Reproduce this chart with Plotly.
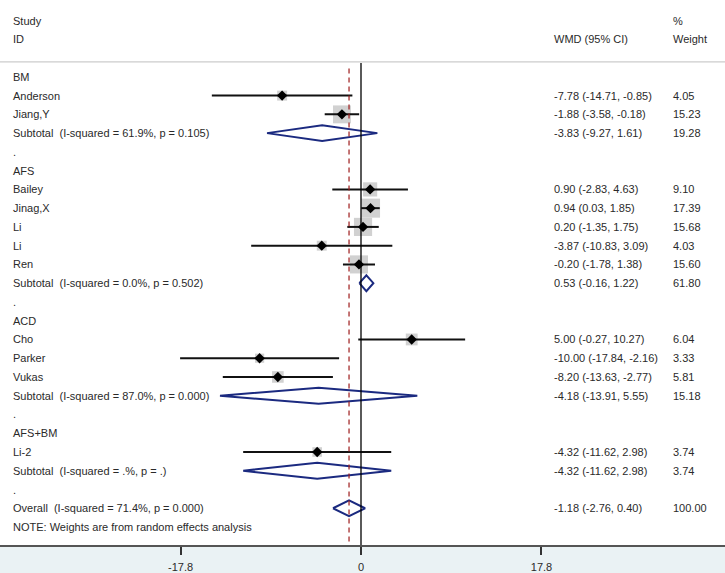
import plotly.graph_objects as go
import math

# ---------------- data ----------------
groups = ["BM", "AFS", "ACD", "AFS+BM"]
study_group = ["BM", "BM", "AFS", "AFS", "AFS", "AFS", "AFS", "ACD", "ACD", "ACD", "AFS+BM"]
study_name = ["Anderson", "Jiang,Y", "Bailey", "Jinag,X", "Li", "Li", "Ren", "Cho", "Parker", "Vukas", "Li-2"]
study_wmd = [-7.78, -1.88, 0.90, 0.94, 0.20, -3.87, -0.20, 5.00, -10.00, -8.20, -4.32]
study_lo = [-14.71, -3.58, -2.83, 0.03, -1.35, -10.83, -1.78, -0.27, -17.84, -13.63, -11.62]
study_hi = [-0.85, -0.18, 4.63, 1.85, 1.75, 3.09, 1.38, 10.27, -2.16, -2.77, 2.98]
study_weight = [4.05, 15.23, 9.10, 17.39, 15.68, 4.03, 15.60, 6.04, 3.33, 5.81, 3.74]

sub_isq = ["61.9%", "0.0%", "87.0%", ".%"]
sub_p = ["0.105", "0.502", "0.000", "."]
sub_wmd = [-3.83, 0.53, -4.18, -4.32]
sub_lo = [-9.27, -0.16, -13.91, -11.62]
sub_hi = [1.61, 1.22, 5.55, 2.98]
sub_weight = [19.28, 61.80, 15.18, 3.74]

overall_isq = "71.4%"
overall_p = "0.000"
overall_wmd = -1.18
overall_lo = -2.76
overall_hi = 0.40
overall_weight = 100.00

x_ticks = [-17.8, 0, 17.8]
x_ticklabels = ["-17.8", "0", "17.8"]
note_text = "NOTE: Weights are from random effects analysis"

# ---------------- layout constants ----------------
W, H = 725, 573
BOTTOM = 25
PX_PER_UNIT = 10.14
X0_PX = 361
ROW0_PX = 20.7
ROW_H = 18.86
plot_h = H - BOTTOM
x_range = [(0 - X0_PX) / PX_PER_UNIT, (W - X0_PX) / PX_PER_UNIT]
y_top = (0 - ROW0_PX) / ROW_H
y_bot = (plot_h - ROW0_PX) / ROW_H

TXT = dict(family="Arial, Liberation Sans, sans-serif", size=11, color="#2A2A2A")
NAVY = "#1B2A80"
COL_LABEL = 11 / W
COL_CI = 552 / W
COL_WT = 671 / W

annotations = []


def add_text(col, k, text):
    annotations.append(dict(x=col, xref="paper", y=k, yref="y", text=text,
                            xanchor="left", yanchor="middle", showarrow=False,
                            font=TXT))


def ci_text(e, lo, hi):
    return f"{e:.2f} ({lo:.2f}, {hi:.2f})"


fig = go.Figure()

add_text(COL_LABEL, 0, "Study")
add_text(COL_WT, 0, "%")
add_text(COL_LABEL, 1, "ID")
add_text(COL_CI, 1, "WMD (95% CI)")
add_text(COL_WT, 1, "Weight")
sep_k = (62.3 - ROW0_PX) / ROW_H

k = 3
dh = 8 / ROW_H  # diamond half height in rows
for gi, g in enumerate(groups):
    add_text(COL_LABEL, k, g)
    k += 1
    idx = [i for i, sg in enumerate(study_group) if sg == g]
    ks = []
    for i in idx:
        add_text(COL_LABEL, k, study_name[i])
        add_text(COL_CI, k, ci_text(study_wmd[i], study_lo[i], study_hi[i]))
        add_text(COL_WT, k, f"{study_weight[i]:.2f}")
        ks.append(k)
        k += 1
    # boxes
    fig.add_trace(go.Scatter(
        x=[study_wmd[i] for i in idx], y=ks, mode="markers",
        marker=dict(symbol="square", color="#BDBDBD",
                    size=[4.2 * math.sqrt(study_weight[i]) + 1.5 for i in idx],
                    line=dict(width=0)),
        hoverinfo="skip", showlegend=False))
    # CI lines
    xs, ys = [], []
    for i, kk in zip(idx, ks):
        xs += [study_lo[i], study_hi[i], None]
        ys += [kk, kk, None]
    fig.add_trace(go.Scatter(x=xs, y=ys, mode="lines",
                             line=dict(color="#111111", width=2),
                             hoverinfo="skip", showlegend=False))
    fig.add_trace(go.Scatter(
        x=[study_wmd[i] for i in idx], y=ks, mode="markers",
        marker=dict(symbol="diamond", color="#000000", size=8),
        hoverinfo="skip", showlegend=False))
    # subtotal
    label = f"Subtotal\u00a0 (I-squared = {sub_isq[gi]}, p = {sub_p[gi]})"
    add_text(COL_LABEL, k, label)
    add_text(COL_CI, k, ci_text(sub_wmd[gi], sub_lo[gi], sub_hi[gi]))
    add_text(COL_WT, k, f"{sub_weight[gi]:.2f}")
    fig.add_trace(go.Scatter(
        x=[sub_lo[gi], sub_wmd[gi], sub_hi[gi], sub_wmd[gi], sub_lo[gi]],
        y=[k, k - dh, k, k + dh, k], mode="lines",
        line=dict(color=NAVY, width=2), hoverinfo="skip", showlegend=False))
    k += 1
    add_text(COL_LABEL, k, ".")
    k += 1

# overall
add_text(COL_LABEL, k, f"Overall\u00a0 (I-squared = {overall_isq}, p = {overall_p})")
add_text(COL_CI, k, ci_text(overall_wmd, overall_lo, overall_hi))
add_text(COL_WT, k, f"{overall_weight:.2f}")
fig.add_trace(go.Scatter(
    x=[overall_lo, overall_wmd, overall_hi, overall_wmd, overall_lo],
    y=[k, k - dh, k, k + dh, k], mode="lines",
    line=dict(color=NAVY, width=2), hoverinfo="skip", showlegend=False))
k += 1
add_text(COL_LABEL, k, note_text)

shapes = [
    dict(type="line", xref="paper", yref="y", x0=0, x1=1, y0=sep_k, y1=sep_k,
         line=dict(color="#CCCCCC", width=1.2)),
    dict(type="line", xref="x", yref="y", x0=0, x1=0, y0=sep_k + 0.05, y1=y_bot,
         line=dict(color="#000000", width=1.3), layer="above"),
    dict(type="line", xref="x", yref="y", x0=overall_wmd, x1=overall_wmd,
         y0=sep_k + 0.35, y1=y_bot,
         line=dict(color="#9E1B1B", width=1.2, dash="5px,4px"), layer="above"),
]

fig.update_layout(
    width=W, height=H,
    margin=dict(l=0, r=0, t=0, b=BOTTOM),
    paper_bgcolor="#EAF2F4",
    plot_bgcolor="#FFFFFF",
    showlegend=False,
    annotations=annotations,
    shapes=shapes,
    xaxis=dict(range=x_range, tickvals=x_ticks, ticktext=x_ticklabels,
               showgrid=False, zeroline=False, showline=True,
               linecolor="#555555", linewidth=1.5, ticks="outside",
               ticklen=8, tickwidth=1.5, tickcolor="#333333",
               ticklabelstandoff=3,
               tickfont=dict(family="Arial, Liberation Sans, sans-serif",
                             size=11, color="#2A2A2A"),
               fixedrange=True),
    yaxis=dict(range=[y_bot, y_top], visible=False, showgrid=False,
               zeroline=False, fixedrange=True),
)

fig.write_html("out.html", config={"displayModeBar": False},
               post_script="document.body.style.margin='0';document.body.style.overflow='hidden';")
